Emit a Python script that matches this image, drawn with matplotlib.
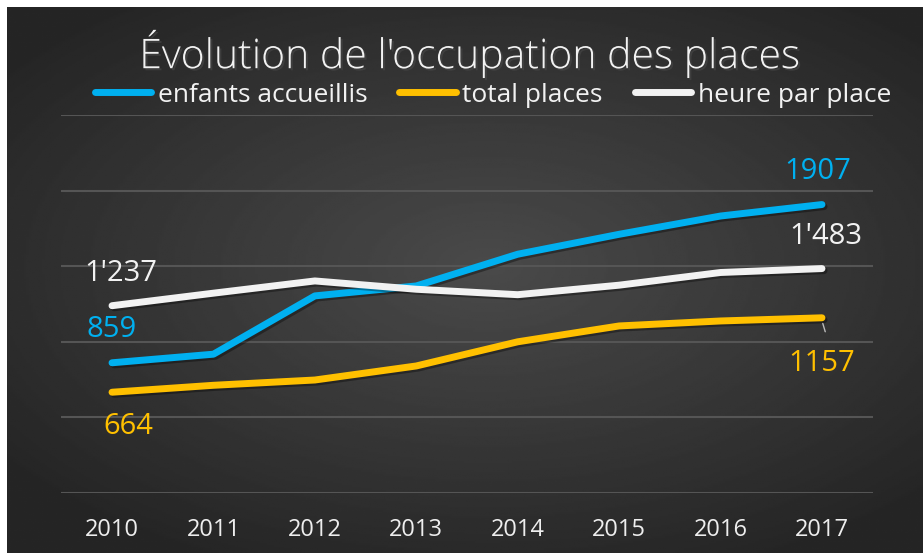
import numpy as np
import matplotlib.pyplot as plt
import matplotlib.patheffects as pe

years = ['2010', '2011', '2012', '2013', '2014', '2015', '2016', '2017']
enfants = [859, 916, 1302, 1368, 1578, 1710, 1831, 1907]
places = [664, 710, 745, 838, 998, 1103, 1136, 1157]
heures = [1237, 1320, 1401, 1346, 1310, 1373, 1457, 1483]
names = ['enfants accueillis', 'total places', 'heure par place']
first_labels = ['859', '664', "1'237"]
last_labels = ['1907', '1157', "1'483"]

c_blue = '#00b0f0'
c_orange = '#ffc000'
c_white = '#f2f2f2'

plt.rcParams['font.family'] = ['Open Sans', 'DejaVu Sans']

fig = plt.figure(figsize=(9.23, 5.53), dpi=100)
fig.patch.set_facecolor('white')

# dark radial gradient background
bg = fig.add_axes([7/923, 0, 916/923, 546/553])
gx, gy = np.meshgrid(np.linspace(-1, 1, 400), np.linspace(-1, 1, 300))
r = np.sqrt(((gx - 0.05) / 1.1) ** 2 + ((gy + 0.05) / 1.0) ** 2)
shade = 0.29 - 0.12 * np.clip(r, 0, 1.2)
bg.imshow(shade, cmap='gray', vmin=0, vmax=1, aspect='auto', extent=[0, 1, 0, 1])
bg.axis('off')

ax = fig.add_axes([61.3/923, (553-492.5)/553, (872.7-61.3)/923, (492.5-115)/553])
ax.set_facecolor('none')
x = np.arange(len(years))
shadow = [pe.SimpleLineShadow(offset=(1.5, -1.5), alpha=0.35), pe.Normal()]
l1, = ax.plot(x, enfants, color=c_blue, lw=5, solid_capstyle='round',
              solid_joinstyle='round', label=names[0], path_effects=shadow, zorder=3)
l2, = ax.plot(x, places, color=c_orange, lw=5, solid_capstyle='round',
              solid_joinstyle='round', label=names[1], path_effects=shadow, zorder=3)
l3, = ax.plot(x, heures, color=c_white, lw=5, solid_capstyle='round',
              solid_joinstyle='round', label=names[2], path_effects=shadow, zorder=3)

ax.set_xlim(-0.5, 7.5)
ax.set_ylim(0, 2500)
ax.set_yticks(np.arange(0, 2501, 500))
ax.yaxis.grid(True, color='#555555', lw=1.5)
ax.set_yticklabels([])
ax.tick_params(axis='y', length=0)
ax.set_xticks(x)
ax.set_xticklabels(years, color='#eeeeee', fontsize=17)
ax.tick_params(axis='x', length=0, pad=18)
for s in ax.spines.values():
    s.set_visible(False)

# data labels
lab = dict(fontsize=21, ha='center', va='center', textcoords='offset points')
ax.annotate(first_labels[0], (0, enfants[0]), xytext=(0, 24), color=c_blue, **lab)
ax.annotate(first_labels[1], (0, places[0]), xytext=(12, -25), color=c_orange, **lab)
ax.annotate(first_labels[2], (0, heures[0]), xytext=(6, 23), color=c_white, **lab)
ax.annotate(last_labels[0], (7, enfants[-1]), xytext=(-3, 24), color=c_blue, **lab)
ax.annotate(last_labels[1], (7, places[-1]), xytext=(0, -33), color=c_orange, **lab)
ax.annotate(last_labels[2], (7, heures[-1]), xytext=(3, 23), color=c_white, **lab)
ax.annotate('', (7, places[-1] - 20), xytext=(7.04, places[-1] - 110),
            arrowprops=dict(arrowstyle='-', color='#bbbbbb', lw=1))

fig.text(0.509, 0.902, "Évolution de l'occupation des places", ha='center', va='center',
         fontsize=29.5, color='#f2f2f2', fontweight='light',
         path_effects=[pe.withSimplePatchShadow(offset=(1.5, -1.5), alpha=0.6)])

leg = fig.legend(handles=[l1, l2, l3], loc='center', bbox_to_anchor=(0.534, 0.828),
                 ncol=3, frameon=False, fontsize=19, handlelength=2.15, handletextpad=0.25,
                 columnspacing=1.2, labelcolor='#f2f2f2')
for h in leg.get_lines():
    h.set_path_effects([])

fig.savefig('out.png', dpi=100)
